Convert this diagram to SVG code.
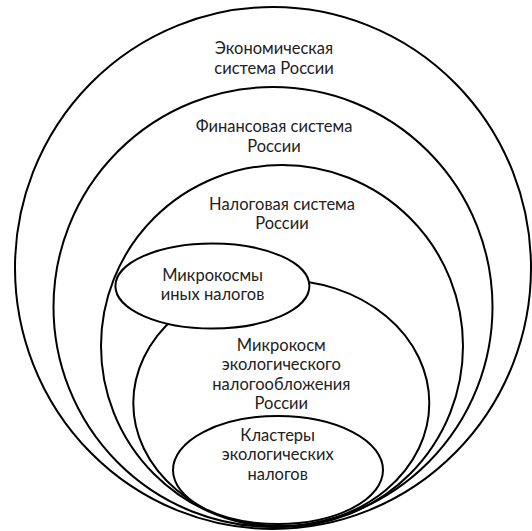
<svg xmlns="http://www.w3.org/2000/svg" width="532" height="531" viewBox="0 0 532 531">
  <style>
    .ring { fill: none; stroke: #000; stroke-width: 2; }
    .blob { fill: #fff; stroke: #000; stroke-width: 2; }
    text { font-family: "Lato", "Open Sans", "Liberation Sans", sans-serif; font-size: 16.5px; fill: #222; text-anchor: middle; }
  </style>
  <rect width="532" height="531" fill="#fff"/>

  <g id="economy">
    <ellipse class="ring" cx="273" cy="268" rx="258" ry="261"/>
    <text x="274" y="54">Экономическая</text>
    <text x="274" y="73.5">система России</text>
  </g>

  <g id="finance">
    <ellipse class="ring" cx="273" cy="307" rx="219.5" ry="220"/>
    <text x="274" y="132">Финансовая система</text>
    <text x="274" y="151.5">России</text>
  </g>

  <g id="tax">
    <ellipse class="ring" cx="282" cy="346" rx="181" ry="181"/>
    <text x="282" y="209.5">Налоговая система</text>
    <text x="282" y="229">России</text>
  </g>

  <g id="eco-taxation">
    <ellipse class="ring" cx="281.3" cy="403" rx="148" ry="123"/>
    <text x="281.3" y="350.5">Микрокосм</text>
    <text x="281.3" y="370">экологического</text>
    <text x="281.3" y="389.5">налогообложения</text>
    <text x="281.3" y="409">России</text>
  </g>

  <g id="other-taxes">
    <ellipse class="blob" cx="212.4" cy="286" rx="97" ry="42.5"/>
    <text x="212.6" y="280.5">Микрокосмы</text>
    <text x="212.6" y="300">иных налогов</text>
  </g>

  <g id="eco-clusters">
    <ellipse class="blob" cx="278" cy="470" rx="105" ry="54"/>
    <text x="277.7" y="440.5">Кластеры</text>
    <text x="277.7" y="460">экологических</text>
    <text x="277.7" y="479.5">налогов</text>
  </g>

  <g id="connectors"/>
</svg>
